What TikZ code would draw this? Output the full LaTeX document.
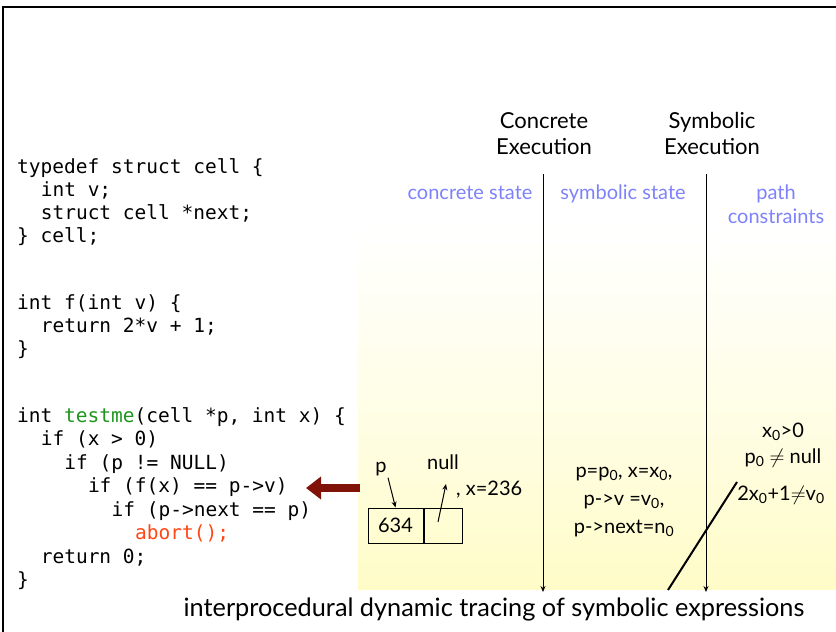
\documentclass[tikz,border=0pt]{standalone}
\usepackage{fontspec}
\setmainfont{Lato}
\setmonofont{DejaVu Sans Mono}
\usetikzlibrary{arrows.meta}
\definecolor{codegreen}{RGB}{30,150,30}
\definecolor{abortred}{RGB}{255,70,20}
\definecolor{headblue}{RGB}{125,130,250}
\definecolor{bgyellow}{RGB}{255,252,200}
\definecolor{arrowred}{RGB}{128,18,8}
\tikzset{
  code/.style={anchor=base west, inner sep=0pt, font=\ttfamily\fontsize{19.5}{23}\selectfont},
  lab/.style={anchor=base, inner sep=0pt, font=\fontsize{20}{24}\selectfont},
  headlab/.style={anchor=base, inner sep=0pt, font=\fontsize{22}{26}\selectfont},
  bluelab/.style={lab, text=headblue},
  axis/.style={line width=0.9pt, -{Stealth[length=6pt,width=5pt]}},
  cellbox/.style={draw, line width=1pt, minimum height=35pt, inner sep=0pt, font=\fontsize{20}{24}\selectfont},
  ptr/.style={line width=1pt, -{Stealth[length=6pt,width=5pt]}},
}
\newcommand{\zs}{\textsubscript{0}}
\begin{document}
\begin{tikzpicture}[x=1pt,y=-1pt]
\useasboundingbox (0,0) rectangle (836,632);
% background gradient
\shade[top color=white, bottom color=bgyellow, middle color=bgyellow!45] (358,225) rectangle (836,589);
% frame
\draw[line width=1.3pt] (3,632) -- (3,7) -- (836,7);
% code block 1
\node[code] (c1) at (17,173) {typedef struct cell \{};
\node[code] (c2) at (40.6,196) {int v;};
\node[code] (c3) at (40.6,219) {struct cell *next;};
\node[code] (c4) at (17,242) {\} cell;};
% code block 2
\node[code] (c5) at (17,309) {int f(int v) \{};
\node[code] (c6) at (40.6,332) {return 2*v + 1;};
\node[code] (c7) at (17,355) {\}};
% code block 3
\node[code] (c8) at (17,422) {int \textcolor{codegreen}{testme}(cell *p, int x) \{};
\node[code] (c9) at (40.6,445.5) {if (x > 0)};
\node[code] (c10) at (64.2,469) {if (p != NULL)};
\node[code] (c11) at (87.8,492.5) {if (f(x) == p->v)};
\node[code] (c12) at (111.4,516) {if (p->next == p)};
\node[code, text=abortred] (c13) at (135,539.5) {abort();};
\node[code] (c14) at (40.6,563) {return 0;};
\node[code] (c15) at (17,586.5) {\}};
% headers
\node[headlab] (ce1) at (544,128) {Concrete};
\node[headlab] (ce2) at (544,154) {Execution};
\node[headlab] (se1) at (712,128) {Symbolic};
\node[headlab] (se2) at (712,154) {Execution};
\node[bluelab] (cs) at (470,199) {concrete state};
\node[bluelab] (ss) at (623,199) {symbolic state};
\node[bluelab] (pc1) at (776,199) {path};
\node[bluelab] (pc2) at (776,223) {constraints};
% vertical axes
\coordinate (a1s) at (543,174);
\coordinate (a1e) at (543,592);
\coordinate (a2s) at (706,174);
\coordinate (a2e) at (706,592);
\draw[axis] (a1s) -- (a1e);
\draw[axis] (a2s) -- (a2e);
% concrete state
\node[cellbox, minimum width=55pt] (cellA) at (395.5,525.5) {634};
\node[cellbox, minimum width=38pt, anchor=west] (cellB) at (cellA.east) {\strut};
\node[lab] (plab) at (381,472) {p};
\node[lab] (nulllab) at (443,469) {null};
\node[lab, anchor=base west] (xlab) at (456,495) {, x=236};
\draw[ptr] (plab.south) ++(7,2) coordinate (pfrom) -- (cellA.north);
\coordinate (nfrom) at (438,522);
\draw[ptr] (nfrom) -- (446,484) coordinate (nto);
% symbolic state
\node[lab] (s1) at (624,477) {p=p\zs, x=x\zs,};
\node[lab] (s2) at (624,505) {p->v =v\zs,};
\node[lab] (s3) at (624,533) {p->next=n\zs};
% path constraints
\node[lab] (k1) at (783,437) {x\zs>0};
\node[lab] (k2) at (783,463) {p\zs{} $\neq$ null};
\node[lab] (k3) at (781,500) {2x\zs+1$\neq$v\zs};
% diagonal
\coordinate (dtop) at (737,482);
\coordinate (dbot) at (668,590);
\draw[line width=2pt] (dtop) -- (dbot);
% caption
\node[lab, font=\fontsize{25.3}{30}\selectfont] (cap) at (494,616) {interprocedural dynamic tracing of symbolic expressions};
% red arrow
\coordinate (rstart) at (360,488);
\coordinate (rend) at (306,488);
\draw[arrowred, line width=8pt, -{Triangle[length=15pt,width=22pt]}] (rstart) -- (rend);
\end{tikzpicture}
\end{document}
